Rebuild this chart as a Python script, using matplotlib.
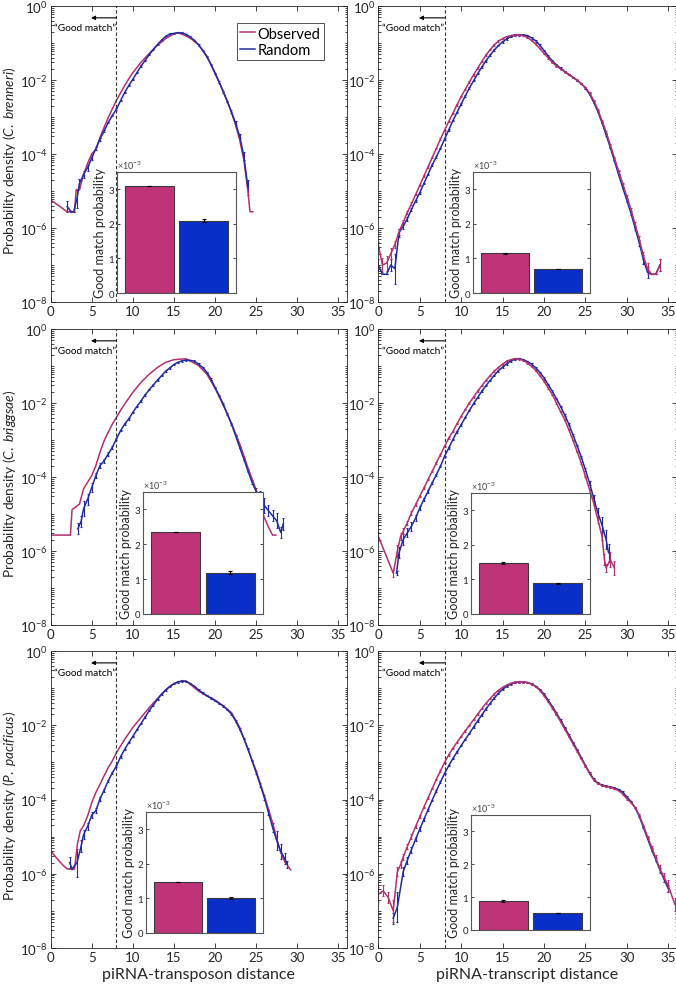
import numpy as np
import matplotlib
matplotlib.use("Agg")
import matplotlib.pyplot as plt
from matplotlib.lines import Line2D
from matplotlib.ticker import LogLocator, NullFormatter

plt.rcParams['font.family'] = ['Lato', 'DejaVu Sans']
plt.rcParams['mathtext.fontset'] = 'custom'
plt.rcParams['mathtext.rm'] = 'Lato'
plt.rcParams['mathtext.it'] = 'Lato:italic'

OBS = '#B5306F'
RND = '#1F2CA3'
OBS_BAR = '#BF3479'
RND_BAR = '#0A2FC8'
AX = '#262626'

# ---- data: log10 probability density vs distance --------------------------
# C. brenneri, transposons
tl_obs_x = [0, 0.5, 1, 1.5, 2, 2.5, 2.9, 3.1, 3.5, 4, 4.5, 5, 5.5, 6, 6.5, 7, 7.5, 8, 8.5, 9,
            9.5, 10, 11, 12, 13, 14, 15, 15.5, 16, 17, 18, 19, 20, 21, 22, 22.5, 23, 23.5, 24,
            24.25, 24.6]
tl_obs_y = [-5.25, -5.32, -5.40, -5.48, -5.56, -5.56, -5.56, -4.97, -4.97, -4.55, -4.25, -3.99,
            -3.88, -3.55, -3.28, -3.02, -2.78, -2.55, -2.35, -2.15, -1.97, -1.80, -1.52, -1.28,
            -1.06, -0.88, -0.75, -0.73, -0.76, -0.87, -1.05, -1.35, -1.80, -2.30, -2.88, -3.22,
            -3.62, -4.15, -5.0, -5.56, -5.56]
tl_rnd_x = [2, 2.5, 2.8, 3.2, 3.5, 4, 4.5, 5, 5.5, 6, 6.5, 7, 7.5, 8, 8.5, 9, 9.5, 10, 10.5, 11,
            11.5, 12, 12.5, 13, 13.5, 14, 14.5, 15, 15.5, 16, 16.5, 17, 17.5, 18, 18.5, 19, 19.5,
            20, 20.5, 21, 21.5, 22, 22.5, 23, 23.5, 24]
tl_rnd_y = [-5.42, -5.56, -5.56, -5.2, -4.8, -4.55, -4.37, -4.10, -3.85, -3.60, -3.38, -3.15,
            -2.96, -2.79, -2.56, -2.34, -2.15, -1.98, -1.80, -1.62, -1.47, -1.31, -1.17, -1.04,
            -0.92, -0.82, -0.76, -0.74, -0.72, -0.73, -0.77, -0.84, -0.93, -1.05, -1.20, -1.37,
            -1.58, -1.82, -2.06, -2.32, -2.58, -2.86, -3.17, -3.52, -4.05, -4.9]
tl_rnd_e = np.full(len(tl_rnd_x), 0.02)
tl_rnd_e[:10] = [0.15, 0.0, 0.0, 0.25, 0.12, 0.1, 0.08, 0.06, 0.05, 0.04]
tl_rnd_e[-5:] = [0.04, 0.05, 0.06, 0.1, 0.2]

# C. brenneri, transcripts
tr_x = np.arange(0, 34.5, 0.5)
tr_obs_y = [-6.45, -7.0, -6.95, -6.7, -6.45, -6.1, -5.85, -5.58, -5.35, -5.1,
            -4.85, -4.6, -4.35, -4.1, -3.85, -3.6, -3.36, -3.12, -2.9, -2.67,
            -2.45, -2.25, -2.05, -1.86, -1.68, -1.5, -1.33, -1.18, -1.05, -0.95,
            -0.88, -0.83, -0.8, -0.78, -0.78, -0.8, -0.85, -0.93, -1.03, -1.15,
            -1.28, -1.4, -1.52, -1.62, -1.7, -1.78, -1.85, -1.93, -2.0, -2.1,
            -2.2, -2.35, -2.55, -2.8, -3.1, -3.4, -3.75, -4.1, -4.45, -4.8,
            -5.15, -5.5, -5.9, -6.3, -6.75, -7.1, -7.25, -7.25, -7.0]
tr_rnd_y = [-7.0, -7.25, -7.25, -7.0, -7.1, -6.13, -5.95, -5.75, -5.5, -5.27,
            -5.05, -4.8, -4.55, -4.3, -4.08, -3.85, -3.6, -3.35, -3.1, -2.88,
            -2.65, -2.43, -2.22, -2.02, -1.83, -1.65, -1.48, -1.33, -1.19, -1.07,
            -0.97, -0.89, -0.83, -0.79, -0.78, -0.78, -0.8, -0.86, -0.94, -1.06,
            -1.2, -1.35, -1.48, -1.59, -1.68, -1.77, -1.85, -1.93, -2.01, -2.1,
            -2.22, -2.38, -2.6, -2.85, -3.15, -3.48, -3.82, -4.18, -4.55, -4.9,
            -5.25, -5.6, -6.0, -6.4, -6.85, -7.2, -7.25, -7.25, -7.0]
tr_obs_e = np.full(len(tr_x), 0.02)
tr_obs_e[:9] = [0.08, 0.2, 0.2, 0.15, 0.1, 0.08, 0.06, 0.05, 0.04]
tr_obs_e[-9:] = [0.04, 0.05, 0.06, 0.08, 0.1, 0.15, 0.0, 0.0, 0.15]
tr_rnd_e = np.full(len(tr_x), 0.02)
tr_rnd_e[:9] = [0.15, 0.0, 0.0, 0.15, 0.4, 0.1, 0.08, 0.06, 0.05]
tr_rnd_e[-9:] = [0.04, 0.05, 0.06, 0.08, 0.12, 0.15, 0.0, 0.0, 0.15]

# C. briggsae, transposons
ml_obs_x = [0, 2.4, 2.6, 3, 3.5, 4, 4.5, 5, 5.5, 6, 6.5, 7, 7.5, 8, 8.5, 9, 10, 11, 12, 13, 14,
            15, 16, 16.5, 17, 18, 19, 20, 21, 22, 23, 24, 25, 25.5, 26, 26.5, 27, 27.4]
ml_obs_y = [-5.57, -5.57, -4.88, -4.82, -4.73, -4.32, -4.14, -3.96, -3.69, -3.33, -3.02, -2.79,
            -2.57, -2.39, -2.2, -2.03, -1.71, -1.44, -1.22, -1.04, -0.9, -0.83, -0.81, -0.81,
            -0.86, -0.99, -1.22, -1.6, -2.06, -2.55, -3.1, -3.75, -4.35, -4.75, -5.1, -5.35,
            -5.57, -5.57]
ml_rnd_x = [3.3, 3.7, 4, 4.5, 5, 5.5, 6, 6.5, 7, 7.5, 8, 8.5, 9, 9.5, 10, 10.5, 11, 11.5, 12,
            12.5, 13, 13.5, 14, 14.5, 15, 15.5, 16, 16.5, 17, 17.5, 18, 18.5, 19, 19.5, 20,
            20.5, 21, 21.5, 22, 22.5, 23, 23.5, 24, 24.5, 25, 25.5, 26, 26.5, 27, 27.5, 28, 28.3]
ml_rnd_y = [-5.4, -5.2, -4.86, -4.6, -4.28, -3.96, -3.69, -3.56, -3.38, -3.2, -2.97, -2.75,
            -2.57, -2.43, -2.25, -2.09, -1.94, -1.78, -1.64, -1.51, -1.38, -1.26, -1.14, -1.05,
            -0.96, -0.9, -0.86, -0.84, -0.85, -0.87, -0.95, -1.04, -1.17, -1.35, -1.58, -1.8,
            -2.03, -2.3, -2.57, -2.88, -3.2, -3.51, -3.83, -4.14, -4.39, -4.5, -4.77, -4.91,
            -5.05, -5.18, -5.5, -5.27]
ml_rnd_e = np.full(len(ml_rnd_x), 0.02)
ml_rnd_e[:10] = [0.15, 0.15, 0.2, 0.15, 0.13, 0.08, 0.06, 0.05, 0.05, 0.04]
ml_rnd_e[-10:] = [0.04, 0.05, 0.08, 0.12, 0.2, 0.15, 0.15, 0.2, 0.15, 0.15]

# C. briggsae, transcripts
mr_obs_x = [0, 1.8, 2.3, 2.7, 3, 3.5, 4, 4.5, 5, 5.5, 6, 6.5, 7, 7.5, 8, 8.5, 9, 9.5, 10, 10.5,
            11, 11.5, 12, 12.5, 13, 13.5, 14, 14.5, 15, 15.5, 16, 16.5, 17, 17.5, 18, 18.5, 19,
            19.5, 20, 20.5, 21, 21.5, 22, 22.5, 23, 23.5, 24, 24.5, 25, 25.5, 26, 26.5, 27,
            27.3, 27.5, 28, 28.5]
mr_obs_y = [-5.6, -6.6, -6.0, -5.6, -5.47, -5.24, -4.97, -4.75, -4.52, -4.3, -4.07, -3.85,
            -3.62, -3.4, -3.17, -2.95, -2.77, -2.56, -2.36, -2.18, -2.0, -1.84, -1.68, -1.53,
            -1.39, -1.26, -1.14, -1.04, -0.95, -0.87, -0.83, -0.8, -0.81, -0.85, -0.92, -1.01,
            -1.12, -1.26, -1.41, -1.59, -1.77, -2.0, -2.23, -2.45, -2.72, -3.01, -3.31, -3.62,
            -3.98, -4.34, -4.7, -5.15, -5.6, -6.23, -6.46, -6.23, -6.46]
mr_obs_e = np.full(len(mr_obs_x), 0.02)
mr_obs_e[:8] = [0.12, 0.1, 0.15, 0.1, 0.08, 0.06, 0.05, 0.04]
mr_obs_e[-7:] = [0.05, 0.08, 0.1, 0.15, 0.12, 0.2, 0.2]
mr_rnd_x = [2.2, 2.5, 3, 3.5, 4, 4.5, 5, 5.5, 6, 6.5, 7, 7.5, 8, 8.5, 9, 9.5, 10, 10.5, 11,
            11.5, 12, 12.5, 13, 13.5, 14, 14.5, 15, 15.5, 16, 16.5, 17, 17.5, 18, 18.5, 19,
            19.5, 20, 20.5, 21, 21.5, 22, 22.5, 23, 23.5, 24, 24.5, 25, 25.5, 26, 26.5, 27,
            27.5, 27.8]
mr_rnd_y = [-6.6, -6.05, -5.69, -5.51, -5.33, -5.11, -4.84, -4.61, -4.39, -4.16, -3.94, -3.71,
            -3.44, -3.22, -2.99, -2.78, -2.59, -2.39, -2.2, -2.02, -1.85, -1.68, -1.53, -1.39,
            -1.25, -1.13, -1.03, -0.94, -0.86, -0.82, -0.8, -0.83, -0.88, -0.95, -1.05, -1.17,
            -1.32, -1.5, -1.68, -1.88, -2.09, -2.32, -2.57, -2.86, -3.15, -3.46, -3.8, -4.16,
            -4.57, -4.97, -5.29, -5.69, -6.05]
mr_rnd_e = np.full(len(mr_rnd_x), 0.02)
mr_rnd_e[:9] = [0.05, 0.15, 0.15, 0.12, 0.12, 0.08, 0.06, 0.05, 0.04]
mr_rnd_e[-7:] = [0.04, 0.05, 0.08, 0.12, 0.2, 0.25, 0.25]

# P. pacificus, transposons
bl_obs_x = [0, 0.5, 1, 1.5, 2, 2.9, 3.25, 3.6, 4, 4.5, 5, 5.5, 6, 6.5, 7, 7.5, 8, 8.5, 9, 10,
            11, 12, 13, 14, 15, 16, 16.5, 17, 18, 19, 20, 21, 22, 23, 24, 25, 26, 26.5, 27,
            27.5, 28, 28.5, 29, 29.2]
bl_obs_y = [-5.38, -5.52, -5.65, -5.77, -5.87, -5.87, -5.2, -4.84, -4.71, -4.44, -4.08, -3.81,
            -3.59, -3.36, -3.14, -2.96, -2.74, -2.56, -2.38, -2.06, -1.79, -1.52, -1.28, -1.05,
            -0.88, -0.81, -0.81, -0.9, -1.08, -1.21, -1.32, -1.48, -1.66, -2.06, -2.65, -3.23,
            -3.9, -4.26, -4.62, -5.05, -5.43, -5.68, -5.83, -5.9]
bl_rnd_x = [2.3, 2.6, 3.2, 3.7, 4, 4.5, 5, 5.5, 6, 6.5, 7, 7.5, 8, 8.5, 9, 9.5, 10, 10.5, 11,
            11.5, 12, 12.5, 13, 13.5, 14, 14.5, 15, 15.5, 16, 16.5, 17, 17.5, 18, 18.5, 19,
            19.5, 20, 20.5, 21, 21.5, 22, 22.5, 23, 23.5, 24, 24.5, 25, 25.5, 26, 26.5, 27,
            27.5, 28, 28.5, 28.8]
bl_rnd_y = [-5.7, -5.87, -5.7, -5.26, -4.95, -4.72, -4.42, -4.3, -3.98, -3.75, -3.5, -3.28,
            -3.1, -2.85, -2.65, -2.47, -2.3, -2.12, -1.95, -1.78, -1.6, -1.45, -1.3, -1.16,
            -1.05, -0.95, -0.88, -0.83, -0.81, -0.82, -0.88, -0.95, -1.05, -1.13, -1.2, -1.27,
            -1.34, -1.41, -1.48, -1.58, -1.7, -1.88, -2.1, -2.35, -2.63, -2.95, -3.27, -3.6,
            -3.95, -4.35, -4.75, -5.1, -5.4, -5.6, -5.75]
bl_rnd_e = np.full(len(bl_rnd_x), 0.02)
bl_rnd_e[:10] = [0.16, 0.0, 0.38, 0.16, 0.12, 0.1, 0.08, 0.06, 0.05, 0.04]
bl_rnd_e[-9:] = [0.04, 0.05, 0.06, 0.08, 0.12, 0.25, 0.2, 0.15, 0.1]

# P. pacificus, transcripts
br_obs_x = np.r_[[0, 0.6, 1.2, 1.8, 2.3, 2.7], np.arange(3, 35.5, 0.5), [35.8]]
br_obs_y = [-6.55, -6.46, -6.64, -7.0, -5.95, -5.75,
            -5.55, -5.27, -5.0, -4.73, -4.47, -4.21, -3.96, -3.71, -3.46, -3.23,
            -3.0, -2.8, -2.62, -2.46, -2.3, -2.15, -2.0, -1.85, -1.7, -1.55,
            -1.41, -1.28, -1.16, -1.06, -0.98, -0.92, -0.87, -0.84, -0.83, -0.83,
            -0.85, -0.89, -0.96, -1.06, -1.2, -1.36, -1.53, -1.71, -1.9, -2.1,
            -2.3, -2.5, -2.7, -2.9, -3.1, -3.3, -3.47, -3.57, -3.62, -3.65,
            -3.67, -3.71, -3.76, -3.85, -3.98, -4.08, -4.21, -4.42, -4.7, -5.0,
            -5.29, -5.58, -5.87, -6.1, -6.32,
            -6.82]
br_obs_e = np.full(len(br_obs_x), 0.02)
br_obs_e[:11] = [0.2, 0.15, 0.15, 0.3, 0.12, 0.1, 0.08, 0.07, 0.06, 0.05, 0.04]
br_obs_e[-6:] = [0.05, 0.08, 0.1, 0.12, 0.15, 0.18]
br_rnd_x = np.r_[[1.8, 2.3], np.arange(3, 35.5, 0.5)]
br_rnd_y = [-7.2, -6.9,
            -5.95, -5.64, -5.35, -5.07, -4.8, -4.54, -4.28, -4.02, -3.77, -3.53,
            -3.3, -3.09, -2.9, -2.72, -2.55, -2.38, -2.22, -2.05, -1.88, -1.72,
            -1.56, -1.41, -1.27, -1.14, -1.03, -0.95, -0.89, -0.85, -0.83, -0.83,
            -0.85, -0.89, -0.95, -1.04, -1.16, -1.32, -1.49, -1.67, -1.86, -2.06,
            -2.26, -2.46, -2.66, -2.87, -3.08, -3.28, -3.45, -3.56, -3.61, -3.64,
            -3.66, -3.69, -3.73, -3.8, -3.93, -4.05, -4.22, -4.45, -4.75, -5.05,
            -5.35, -5.62, -5.9, -6.15, -6.4]
br_rnd_e = np.full(len(br_rnd_x), 0.02)
br_rnd_e[:8] = [0.15, 0.4, 0.12, 0.1, 0.08, 0.06, 0.05, 0.04]
br_rnd_e[-5:] = [0.04, 0.05, 0.06, 0.08, 0.1]

# inset bars: good match probability (x 1e-3), observed / random, with errors
good_obs = [3.1, 1.15, 2.36, 1.47, 1.47, 0.88]
good_obs_err = [0.0, 0.015, 0.0, 0.02, 0.0, 0.02]
good_rnd = [2.09, 0.69, 1.19, 0.89, 1.01, 0.52]
good_rnd_err = [0.04, 0.01, 0.04, 0.01, 0.03, 0.01]

species = ['C. brenneri', 'C. briggsae', 'P. pacificus']
xlabels = ['piRNA-transposon distance', 'piRNA-transcript distance']

W, H = 676, 987
rows_px = [(7, 303), (330, 626), (652, 949)]
cols_px = [(50.7, 346.5), (378.3, 676.5)]
insets_px = [(117, 173, 236, 294), (473, 173, 590, 294),
             (143, 493, 263, 615), (471, 494, 590, 615),
             (146, 813, 263, 934), (471, 816, 590, 931)]


def rect(l, t, r, b):
    return [l / W, 1 - b / H, (r - l) / W, (b - t) / H]


def curve(ax, x, ly, color, err=None):
    x = np.asarray(x, float)
    ly = np.asarray(ly, float)
    y = 10 ** ly
    if err is None:
        ax.plot(x, y, color=color, lw=1.1)
    else:
        err = np.asarray(err, float)
        lo = y - 10 ** (ly - err)
        hi = 10 ** (ly + err) - y
        ax.errorbar(x, y, yerr=[lo, hi], color=color, lw=1.1, elinewidth=0.8,
                    capsize=1.0, capthick=0.8)


def style_main(ax):
    ax.set_yscale('log')
    ax.set_xlim(0, 36)
    ax.set_ylim(1e-8, 1)
    ax.set_xticks(np.arange(0, 36, 5))
    ax.set_yticks([1e-8, 1e-6, 1e-4, 1e-2, 1])
    ax.yaxis.set_minor_locator(LogLocator(base=10, subs=np.arange(1, 10), numticks=100))
    ax.yaxis.set_minor_formatter(NullFormatter())
    ax.tick_params(which='both', direction='in', top=True, right=True, colors=AX,
                   labelsize=9.5, width=0.6)
    ax.tick_params(which='major', length=3.5, pad=2)
    ax.tick_params(which='minor', length=1.8)
    for s in ax.spines.values():
        s.set_color(AX)
        s.set_linewidth(0.6)
    ax.axvline(8, color='#333333', lw=0.8, ls=(0, (3, 2)))
    ax.annotate('', xy=(4.9, 10 ** -0.32), xytext=(8, 10 ** -0.32),
                arrowprops=dict(arrowstyle='-|>', color='k', lw=0.8,
                                mutation_scale=6, shrinkA=0, shrinkB=0))
    ax.text(7.95, 10 ** -0.58, '\u201cGood match\u201d', ha='right', va='center',
            fontsize=7.3, color='k')


def style_inset(axi, i):
    axi.bar([1, 2], [good_obs[i], good_rnd[i]], width=0.9,
            color=[OBS_BAR, RND_BAR], edgecolor='#3a3a3a', lw=0.8,
            yerr=[good_obs_err[i], good_rnd_err[i]],
            error_kw=dict(ecolor='k', elinewidth=0.8, capsize=1.2, capthick=0.8))
    axi.set_xlim(0.4, 2.6)
    axi.set_ylim(0, 3.5)
    axi.set_xticks([])
    axi.set_yticks([0, 1, 2, 3])
    axi.tick_params(direction='in', right=True, labelsize=7, length=2.5, pad=2,
                    colors=AX, width=0.6)
    for s in axi.spines.values():
        s.set_color('#555555')
        s.set_linewidth(0.8)
    axi.set_ylabel('Good match probability', fontsize=9, color=AX, labelpad=2)
    axi.text(0.0, 1.01, '\u00d710$^{-3}$', transform=axi.transAxes, fontsize=6.5,
             color='#444444', ha='left', va='bottom')


series = [
    (tl_obs_x, tl_obs_y, None, tl_rnd_x, tl_rnd_y, tl_rnd_e),
    (tr_x, tr_obs_y, tr_obs_e, tr_x, tr_rnd_y, tr_rnd_e),
    (ml_obs_x, ml_obs_y, None, ml_rnd_x, ml_rnd_y, ml_rnd_e),
    (mr_obs_x, mr_obs_y, mr_obs_e, mr_rnd_x, mr_rnd_y, mr_rnd_e),
    (bl_obs_x, bl_obs_y, None, bl_rnd_x, bl_rnd_y, bl_rnd_e),
    (br_obs_x, br_obs_y, br_obs_e, br_rnd_x, br_rnd_y, br_rnd_e),
]

fig = plt.figure(figsize=(W / 100, H / 100), dpi=100)

for i, (ox, oy, oe, rx, ry, re) in enumerate(series):
    r, c = divmod(i, 2)
    t, b = rows_px[r]
    l, rr = cols_px[c]
    ax = fig.add_axes(rect(l, t, rr, b))
    curve(ax, rx, ry, RND, re)
    curve(ax, ox, oy, OBS, oe)
    style_main(ax)
    if c == 0:
        ax.set_ylabel('Probability density ($\\mathit{' + species[r].replace(' ', '\\ ') + '}$)',
                      fontsize=9.8, color=AX)
        ax.yaxis.set_label_coords(-0.11, 0.48)
    if r == 2:
        ax.set_xlabel(xlabels[c], fontsize=11.5, color=AX, labelpad=3)
    if i == 0:
        handles = [Line2D([], [], color=OBS, lw=1.1), Line2D([], [], color=RND, lw=1.1)]
        leg = ax.legend(handles, ['Observed', 'Random'], loc='upper right',
                        bbox_to_anchor=(0.923, 0.943), fontsize=10.5, frameon=True,
                        fancybox=False, edgecolor=AX, handlelength=1.0,
                        handletextpad=0.15, borderpad=0.25, labelspacing=0.15,
                        borderaxespad=0)
        leg.get_frame().set_linewidth(0.7)
    axi = fig.add_axes(rect(*insets_px[i]))
    style_inset(axi, i)

fig.savefig('out.png', dpi=100)
